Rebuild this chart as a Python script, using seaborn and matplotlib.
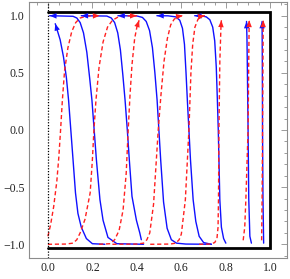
import numpy as np
import pandas as pd
import seaborn as sns
import matplotlib
matplotlib.use("Agg")
import matplotlib.pyplot as plt
from matplotlib.patches import FancyArrowPatch
from matplotlib.ticker import MultipleLocator, FixedLocator

# ---------------- data ----------------
# blue solid curves (start at bottom-right, end with arrow at top-left)
blue_A_x = [0.256, 0.20, 0.173, 0.15, 0.135, 0.124, 0.113, 0.103, 0.093, 0.083, 0.07, 0.055, 0.033]
blue_A_y = [-1.0, -0.995, -0.95, -0.85, -0.73, -0.55, -0.26, 0.0, 0.26, 0.46, 0.64, 0.79, 0.93]
blue_B_x = [0.43, 0.31, 0.27, 0.248, 0.234, 0.218, 0.208, 0.198, 0.188, 0.175, 0.16, 0.145, 0.13, 0.113, 0.008]
blue_B_y = [-1.0, -0.995, -0.94, -0.79, -0.61, -0.26, 0.0, 0.26, 0.45, 0.68, 0.85, 0.94, 0.98, 0.995, 1.0]
blue_C_x = [0.42, 0.413, 0.398, 0.378, 0.366, 0.357, 0.347, 0.337, 0.326, 0.314, 0.30, 0.285, 0.265, 0.15]
blue_C_y = [-0.96, -0.9, -0.79, -0.58, -0.26, 0.0, 0.26, 0.48, 0.7, 0.85, 0.94, 0.98, 0.997, 1.0]
blue_D_x = [0.735, 0.62, 0.578, 0.555, 0.536, 0.52, 0.507, 0.499, 0.491, 0.481, 0.47, 0.457, 0.442, 0.425, 0.40, 0.315]
blue_D_y = [-1.0, -0.998, -0.99, -0.96, -0.86, -0.63, -0.26, 0.0, 0.26, 0.5, 0.72, 0.87, 0.95, 0.985, 0.998, 1.0]
blue_E_x = [0.735, 0.70, 0.68, 0.665, 0.653, 0.641, 0.634, 0.627, 0.621, 0.614, 0.605, 0.593, 0.575, 0.54, 0.49]
blue_E_y = [-1.0, -0.985, -0.93, -0.8, -0.61, -0.26, 0.0, 0.26, 0.5, 0.75, 0.89, 0.96, 0.99, 0.999, 1.0]
blue_F_x = [0.80, 0.79, 0.78, 0.773, 0.769, 0.766, 0.762, 0.757, 0.75, 0.741, 0.728, 0.712, 0.69, 0.66]
blue_F_y = [-0.99, -0.95, -0.85, -0.61, -0.26, 0.0, 0.26, 0.55, 0.78, 0.9, 0.965, 0.99, 0.999, 1.0]
blue_G_x = [0.915, 0.908, 0.903, 0.90, 0.897, 0.895, 0.893]
blue_G_y = [-0.99, -0.93, -0.6, 0.0, 0.5, 0.8, 0.95]
blue_H_x = [0.97, 0.967, 0.965, 0.964, 0.963]
blue_H_y = [-0.99, -0.6, 0.0, 0.6, 0.95]

# red dashed curves (start at bottom-left, end with arrow at top-right)
red_1_x = [0.0, 0.012, 0.026, 0.04, 0.049, 0.057, 0.065, 0.075, 0.09, 0.107, 0.125, 0.145, 0.175, 0.233]
red_1_y = [-0.93, -0.83, -0.67, -0.45, -0.24, 0.0, 0.26, 0.52, 0.72, 0.86, 0.94, 0.98, 0.997, 1.0]
red_2_x = [0.0, 0.08, 0.113, 0.13, 0.145, 0.167, 0.19, 0.2, 0.207, 0.216, 0.23, 0.248, 0.268, 0.29, 0.315, 0.345, 0.40]
red_2_y = [-1.0, -0.998, -0.99, -0.96, -0.9, -0.78, -0.55, -0.26, 0.0, 0.26, 0.55, 0.77, 0.9, 0.96, 0.988, 0.998, 1.0]
red_3_x = [0.23, 0.28, 0.30, 0.32, 0.338, 0.352, 0.361, 0.369, 0.378, 0.39, 0.40, 0.41]
red_3_y = [-1.0, -0.995, -0.96, -0.88, -0.7, -0.38, 0.0, 0.3, 0.57, 0.8, 0.9, 0.96]
red_4_x = [0.29, 0.40, 0.43, 0.445, 0.458, 0.475, 0.496, 0.508, 0.522, 0.537, 0.552, 0.568, 0.588, 0.607]
red_4_y = [-1.0, -0.998, -0.99, -0.96, -0.9, -0.65, 0.0, 0.3, 0.6, 0.8, 0.92, 0.97, 0.995, 1.0]
red_5_x = [0.46, 0.55, 0.575, 0.59, 0.60, 0.618, 0.634, 0.643, 0.651, 0.661, 0.675, 0.69, 0.706]
red_5_y = [-1.0, -0.998, -0.99, -0.96, -0.91, -0.61, 0.0, 0.5, 0.75, 0.9, 0.97, 0.995, 1.0]
red_6_x = [0.68, 0.73, 0.75, 0.76, 0.765, 0.767, 0.769, 0.773, 0.778, 0.78]
red_6_y = [-1.0, -0.998, -0.985, -0.95, -0.85, -0.6, 0.0, 0.6, 0.9, 0.96]
red_7_x = [0.878, 0.885, 0.89, 0.90, 0.903, 0.905]
red_7_y = [-0.965, -0.85, -0.61, 0.0, 0.6, 0.96]
red_8_x = [0.961, 0.963, 0.965, 0.967, 0.968]
red_8_y = [-0.965, -0.6, 0.0, 0.6, 0.96]

# black box (top, right, bottom) and dotted line at x = 0
box_x = [0.0, 1.0, 1.0, 0.0]
box_y = [1.03, 1.03, -1.03, -1.03]
vline_x = 0.0

x_ticks = [0.0, 0.2, 0.4, 0.6, 0.8, 1.0]
x_tick_labels = ["0.0", "0.2", "0.4", "0.6", "0.8", "1.0"]
y_ticks = [-1.0, -0.5, 0.0, 0.5, 1.0]
y_tick_labels = ["\u22121.0", "\u22120.5", "0.0", "0.5", "1.0"]

blue_curves = [(blue_A_x, blue_A_y), (blue_B_x, blue_B_y), (blue_C_x, blue_C_y),
               (blue_D_x, blue_D_y), (blue_E_x, blue_E_y), (blue_F_x, blue_F_y),
               (blue_G_x, blue_G_y), (blue_H_x, blue_H_y)]
red_curves = [(red_1_x, red_1_y), (red_2_x, red_2_y), (red_3_x, red_3_y),
              (red_4_x, red_4_y), (red_5_x, red_5_y), (red_6_x, red_6_y),
              (red_7_x, red_7_y), (red_8_x, red_8_y)]


def to_frame(curves):
    rows = []
    for i, (xs, ys) in enumerate(curves):
        for j, (xv, yv) in enumerate(zip(xs, ys)):
            rows.append({"curve": i, "order": j, "x": xv, "y": yv})
    return pd.DataFrame(rows)


blue_df = to_frame(blue_curves)
red_df = to_frame(red_curves)

# ---------------- plot ----------------
sns.set_theme(style="white")
plt.rcParams["font.family"] = ["Liberation Serif", "DejaVu Serif"]

fig = plt.figure(figsize=(2.9, 2.79), dpi=100)
ax = fig.add_axes([29 / 290, 21 / 279, 258 / 290, 256 / 279])

BLUE = "#1010ff"
RED = "#ff2020"

sns.lineplot(data=blue_df, x="x", y="y", units="curve", estimator=None, sort=False,
             color=BLUE, lw=1.0, ax=ax, legend=False)
sns.lineplot(data=red_df, x="x", y="y", units="curve", estimator=None, sort=False,
             color=RED, lw=1.0, linestyle=(0, (3, 2)), ax=ax, legend=False)


def add_head(xs, ys, color):
    a = FancyArrowPatch((xs[-2], ys[-2]), (xs[-1], ys[-1]),
                        arrowstyle="-|>,head_length=0.55,head_width=0.22",
                        mutation_scale=9, color=color, lw=0,
                        shrinkA=0, shrinkB=0, zorder=5)
    ax.add_patch(a)


for xs, ys in blue_curves:
    add_head(xs, ys, BLUE)
for xs, ys in red_curves:
    add_head(xs, ys, RED)

ax.plot(box_x, box_y, color="black", lw=2.0, solid_joinstyle="miter", zorder=4)
ax.axvline(vline_x, color="black", lw=0.9, linestyle=(0, (1, 1.3)), zorder=3)

ax.set_xlim(-0.085, 1.075)
ax.set_ylim(-1.12, 1.12)
ax.set_xlabel("")
ax.set_ylabel("")

ax.xaxis.set_major_locator(FixedLocator(x_ticks))
ax.set_xticklabels(x_tick_labels)
ax.yaxis.set_major_locator(FixedLocator(y_ticks))
ax.set_yticklabels(y_tick_labels)
ax.xaxis.set_minor_locator(MultipleLocator(0.05))
ax.yaxis.set_minor_locator(MultipleLocator(0.1))

FRAME = "#8c8c8c"
for s in ax.spines.values():
    s.set_visible(True)
    s.set_color(FRAME)
    s.set_linewidth(0.8)

ax.tick_params(which="both", direction="in", top=True, right=True, color=FRAME,
               width=0.6, labelsize=8.5, labelcolor="#222222", pad=3)
ax.tick_params(which="major", length=4)
ax.tick_params(which="minor", length=2.2)
ax.grid(False)
ax.set_facecolor("white")
fig.patch.set_facecolor("white")

fig.savefig("out.png", dpi=100)
